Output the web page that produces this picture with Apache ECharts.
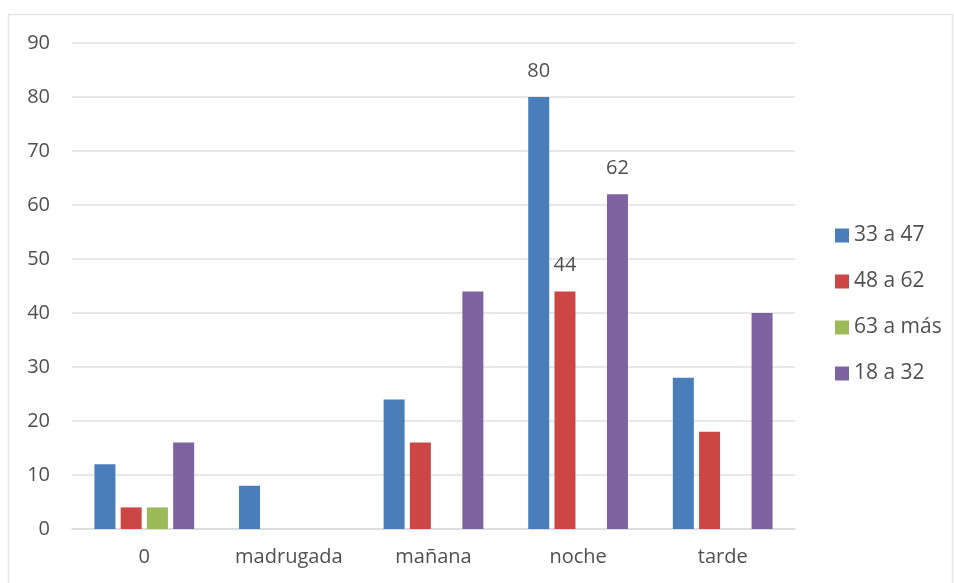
<!DOCTYPE html>
<html>
<head>
<meta charset="utf-8">
<script src="https://cdn.jsdelivr.net/npm/echarts@6/dist/echarts.min.js"></script>
<style>
  html, body { margin: 0; padding: 0; background: #ffffff; }
  #chart { width: 954px; height: 583px; }
</style>
</head>
<body>
<div id="chart"></div>
<script>
// Time-of-day categories
const categories = ['0', 'madrugada', 'mañana', 'noche', 'tarde'];

// Counts per age group
const age33to47 = [12, 8, 24, 80, 28];
const age48to62 = [4, 0, 16, 44, 18];
const age63plus = [4, 0, 0, 0, 0];
const age18to32 = [16, 0, 44, 62, 40];

const seriesNames = ['33 a 47', '48 a 62', '63 a más', '18 a 32'];
const seriesData = [age33to47, age48to62, age63plus, age18to32];
const seriesColors = ['#4a7ebb', '#cc4646', '#9bbb59', '#7f63a1'];

// Values annotated above their bars: [seriesIndex, categoryIndex]
const labelled = [[0, 3], [1, 3], [3, 3]];

const FONT = '"Open Sans", "Noto Sans", sans-serif';
const TEXT = '#505050';

const chart = echarts.init(document.getElementById('chart'), null, { renderer: 'canvas' });

const series = seriesNames.map((name, si) => ({
  name,
  type: 'bar',
  barWidth: 21,
  barGap: '25%',
  itemStyle: { color: seriesColors[si] },
  data: seriesData[si].map((v, ci) => {
    const show = labelled.some(([s, c]) => s === si && c === ci);
    return show ? { value: v, label: { show: true } } : v;
  }),
  label: {
    show: false,
    position: 'top',
    distance: 16,
    color: TEXT,
    fontFamily: FONT,
    fontSize: 20
  }
}));

chart.setOption({
  backgroundColor: '#ffffff',
  animation: false,
  graphic: [{
    type: 'rect',
    shape: { x: 8.5, y: 14.5, width: 944, height: 580 },
    style: { fill: 'none', stroke: '#e6e6e6', lineWidth: 1.5 },
    silent: true
  }],
  grid: { left: 72, right: 159, top: 43, bottom: 54, containLabel: false },
  legend: {
    orient: 'vertical',
    left: 830,
    top: 220,
    itemWidth: 14,
    itemHeight: 14,
    itemGap: 25,
    icon: 'rect',
    textStyle: { color: TEXT, fontFamily: FONT, fontSize: 21, lineHeight: 20 },
    data: seriesNames
  },
  xAxis: {
    type: 'category',
    data: categories,
    axisLine: { show: true, lineStyle: { color: '#d9d9d9', width: 1.5 } },
    axisTick: { show: false },
    axisLabel: { color: TEXT, fontFamily: FONT, fontSize: 20, margin: 18 }
  },
  yAxis: {
    type: 'value',
    min: 0,
    max: 90,
    interval: 10,
    axisLine: { show: false },
    axisTick: { show: false },
    splitLine: { lineStyle: { color: '#e0e0e0', width: 1.5 } },
    axisLabel: { color: TEXT, fontFamily: FONT, fontSize: 20, margin: 22 }
  },
  series
});
</script>
</body>
</html>
